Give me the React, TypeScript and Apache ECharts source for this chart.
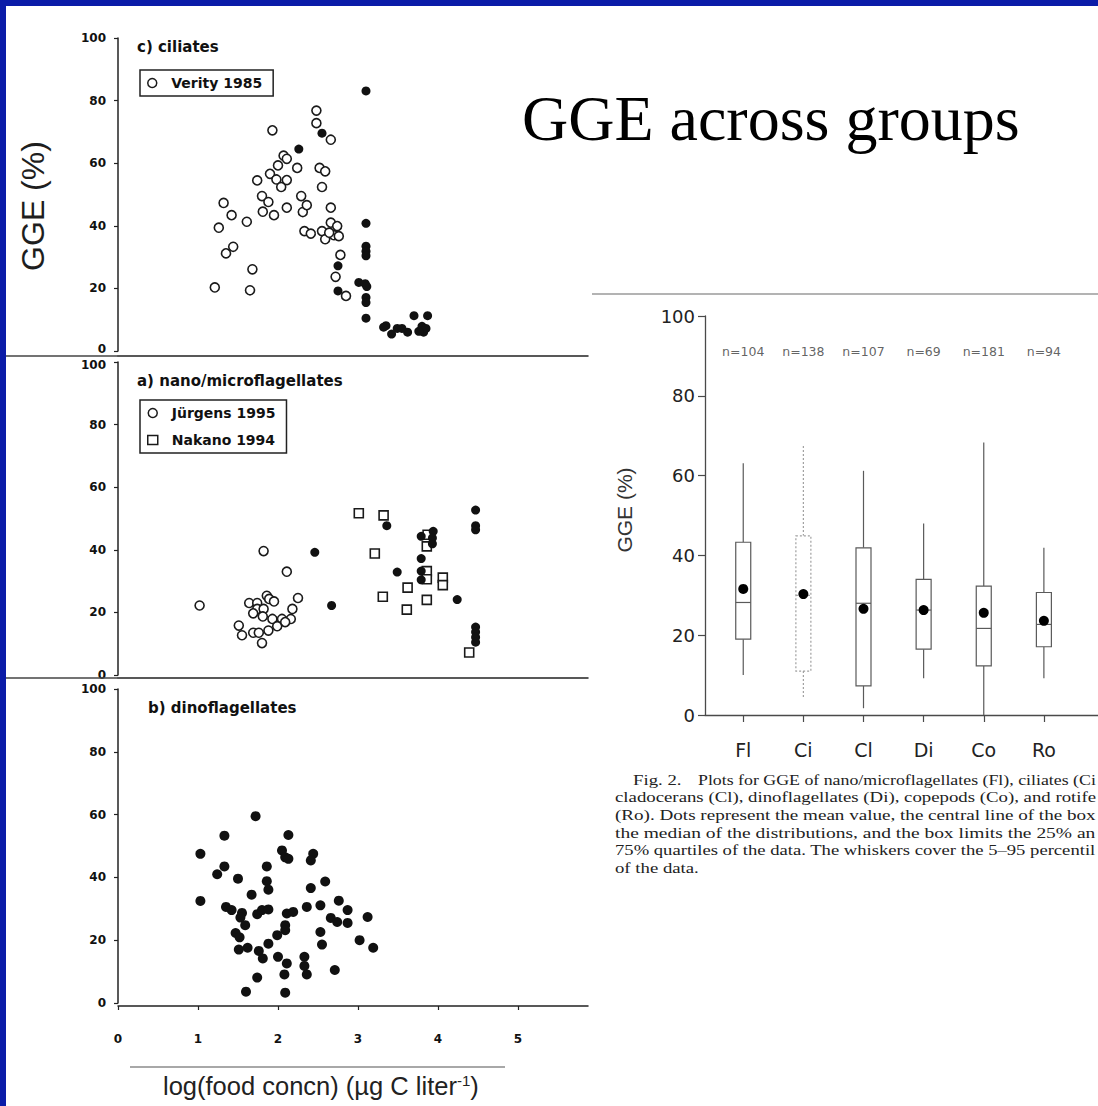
import { useEffect, useRef } from 'react';
import * as echarts from 'echarts';

// ---- c) ciliates: log(food concn) vs GGE (%) ----
const ciliatesVerity: [number, number][] = [
  [1.21, 20.3], [1.65, 19.4], [1.26, 39.4], [1.32, 47.3], [1.42, 43.4], [1.35, 31.2],
  [1.44, 33.3], [1.61, 41.3], [1.68, 26.1], [1.74, 54.5], [1.80, 49.5], [1.81, 44.5],
  [1.88, 47.6], [1.95, 43.4], [1.93, 70.5], [1.90, 56.6], [1.98, 54.8], [2.00, 59.3],
  [2.04, 52.4], [2.07, 62.4], [2.11, 61.4], [2.11, 54.6], [2.11, 45.8], [2.24, 58.5],
  [2.29, 49.5], [2.31, 44.4], [2.36, 46.6], [2.33, 38.3], [2.41, 37.5], [2.48, 76.8],
  [2.48, 72.8], [2.66, 67.5], [2.52, 58.5], [2.59, 57.4], [2.55, 52.4], [2.66, 45.8],
  [2.55, 38.3], [2.59, 35.7], [2.66, 41.0], [2.70, 37.0], [2.74, 39.9], [2.76, 36.7],
  [2.78, 30.7], [2.72, 23.7], [2.85, 17.6], [2.64, 37.8],
];
const ciliatesOther: [number, number][] = [
  [3.10, 83.1], [2.26, 64.5], [2.55, 69.6], [3.10, 40.8], [3.10, 33.5], [3.10, 31.9],
  [3.10, 30.4], [3.01, 21.9], [3.09, 21.5], [3.11, 20.6], [3.10, 17.1], [3.10, 15.5],
  [3.10, 10.5], [2.75, 27.2], [2.75, 19.2], [3.35, 8.1], [3.42, 5.4], [3.49, 7.2],
  [3.62, 6.0], [3.70, 11.3], [3.87, 11.3], [3.80, 7.9], [3.82, 6.0], [3.32, 7.6],
  [3.55, 7.2], [3.85, 7.2], [3.76, 6.3],
];

// ---- a) nano/microflagellates ----
const flagJurgens: [number, number][] = [
  [1.02, 22.2], [1.82, 39.6], [2.11, 33.0], [1.64, 23.0], [1.74, 23.0], [1.86, 25.3],
  [1.89, 24.3], [1.95, 23.5], [1.74, 21.1], [1.82, 21.1], [1.69, 19.7], [1.81, 18.7],
  [1.93, 17.9], [2.05, 17.9], [2.16, 17.9], [2.18, 21.1], [2.25, 24.6], [1.51, 15.8],
  [1.55, 12.7], [1.69, 13.5], [1.76, 13.5], [1.88, 14.2], [1.99, 15.6], [1.80, 10.2],
  [2.09, 16.9],
];
const flagNakano: [number, number][] = [
  [3.01, 51.7], [3.32, 51.0], [3.21, 38.8], [3.31, 25.0], [3.62, 27.9], [3.61, 20.9],
  [3.86, 24.0], [3.86, 41.1], [3.87, 44.8], [3.86, 33.2], [3.86, 30.6], [4.06, 31.1],
  [4.06, 28.7], [4.39, 7.2],
];
const flagOther: [number, number][] = [
  [2.46, 39.2], [2.67, 22.2], [3.36, 47.7], [3.49, 32.9], [3.79, 44.3], [3.79, 37.2],
  [3.79, 33.2], [3.79, 30.4], [3.94, 45.9], [3.93, 43.8], [3.93, 41.9], [4.24, 24.1],
  [4.47, 52.7], [4.47, 47.7], [4.47, 46.4], [4.47, 15.3], [4.47, 13.7], [4.47, 12.1],
  [4.47, 10.5],
];

// ---- b) dinoflagellates ----
const dinoflagellates: [number, number][] = [
  [1.72, 59.5], [1.33, 53.3], [2.13, 53.5], [1.03, 47.5], [2.05, 48.6], [2.09, 46.4],
  [2.13, 45.9], [2.44, 47.5], [2.41, 45.4], [1.33, 43.5], [1.24, 41.0], [1.86, 43.5],
  [1.50, 39.6], [1.86, 38.8], [1.88, 36.1], [1.67, 34.5], [2.41, 36.6], [2.59, 38.7],
  [1.03, 32.5], [1.35, 30.6], [1.42, 29.6], [1.55, 28.7], [1.53, 27.2], [1.59, 24.8],
  [1.74, 28.3], [1.80, 29.6], [1.88, 29.8], [2.11, 28.5], [2.19, 29.0], [2.36, 30.6],
  [2.53, 31.1], [2.76, 32.6], [2.87, 29.6], [2.66, 27.1], [2.74, 25.8], [2.87, 25.5],
  [3.12, 27.4], [1.47, 22.3], [1.52, 20.9], [2.09, 24.8], [2.09, 23.2], [1.99, 21.6],
  [1.88, 18.9], [2.53, 22.6], [2.55, 18.6], [3.02, 20.0], [3.19, 17.6], [1.51, 17.0],
  [1.62, 17.6], [1.76, 16.6], [1.81, 14.2], [2.00, 14.7], [2.11, 12.6], [2.33, 14.7],
  [2.33, 11.8], [2.36, 9.1], [2.71, 10.5], [1.74, 8.1], [2.08, 9.1], [1.60, 3.6],
  [2.09, 3.3],
];

const logTicks = [0, 1, 2, 3, 4, 5];

// ---- Fig. 2 box plot: GGE by group ----
const groups = ['Fl', 'Ci', 'Cl', 'Di', 'Co', 'Ro'];
const p5 = [10.0, 4.2, 1.7, 9.2, 0.0, 9.2];
const q1 = [19.0, 11.0, 7.3, 16.5, 12.3, 17.1];
const median = [28.2, 30.0, 28.0, 26.3, 21.7, 22.7];
const q3 = [43.3, 44.9, 41.9, 34.0, 32.3, 30.7];
const p95 = [63.1, 67.4, 61.2, 48.0, 68.3, 41.9];
const meanGGE = [31.6, 30.3, 26.6, 26.3, 25.6, 23.6];
const sampleSizes = [104, 138, 107, 69, 181, 94];
const nLabelLevel = 91;

// caption of the pasted figure, as far as the slide shows it
const captionLead = 'Fig. 2.';
const captionLines = [
  'Plots for GGE of nano/microflagellates (Fl), ciliates (Ci',
  'cladocerans (Cl), dinoflagellates (Di), copepods (Co), and rotife',
  '(Ro). Dots represent the mean value, the central line of the box',
  'the median of the distributions, and the box limits the 25% an',
  '75% quartiles of the data. The whiskers cover the 5\u201395 percentil',
  'of the data.',
];

const SCAN_FONT = 'DejaVu Sans';
const CAPTION_FONT = 'Liberation Serif';
const CAPTION_SIZE = 15;
const INK = '#111';
const BLUE = '#0b1ca8';

const openStyle = { color: '#fff', borderColor: '#1a1a1a', borderWidth: 1.6, opacity: 1 };
const filledStyle = { color: INK, opacity: 1 };

function measure(text: string, font: string): number {
  const ctx = document.createElement('canvas').getContext('2d');
  if (!ctx) return text.length * 7;
  ctx.font = font;
  return ctx.measureText(text).width;
}

function scatterY(gridIndex: number, formatter?: (v: number) => string, rich?: any) {
  return {
    gridIndex,
    type: 'value',
    min: 0,
    max: 100,
    interval: 20,
    axisLine: { show: true, lineStyle: { color: '#222', width: 1.5 } },
    axisTick: { show: true, inside: false, length: 4, lineStyle: { color: '#222', width: 1.2 } },
    axisLabel: {
      fontFamily: SCAN_FONT, fontWeight: 'bold', fontSize: 12, color: INK, margin: 12,
      ...(formatter ? { formatter, rich } : {}),
    },
    splitLine: { show: false },
  };
}

function scatterX(gridIndex: number, withLabels: boolean, offset: number) {
  return {
    gridIndex,
    type: 'value',
    min: 0,
    max: 5.875,
    offset,
    axisLine: { show: true, onZero: false, lineStyle: { color: '#222', width: 1.5 } },
    axisTick: withLabels
      ? { show: true, length: 4, customValues: logTicks, lineStyle: { color: '#222', width: 1.2 } }
      : { show: false },
    axisLabel: withLabels
      ? { show: true, customValues: logTicks, fontFamily: SCAN_FONT, fontWeight: 'bold', fontSize: 12, color: INK, margin: 27 }
      : { show: false },
    splitLine: { show: false },
  };
}

const labelRich = {
  up: { fontFamily: SCAN_FONT, fontWeight: 'bold', fontSize: 12, color: INK, padding: [0, 0, 5, 0] },
  down: { fontFamily: SCAN_FONT, fontWeight: 'bold', fontSize: 12, color: INK, padding: [5, 0, 0, 0] },
};

function buildOption() {
  const boxRows = groups.map((_, i) => [i + 1, p5[i], q1[i], median[i], q3[i], p95[i]]);

  // the printed caption is justified: stretch every full line to the right edge
  const captionFont = `${CAPTION_SIZE}px "${CAPTION_FONT}"`;
  const rightEdge = 1096;
  const lineX = (i: number) => (i === 0 ? 698 : 615);
  const scales = captionLines.map((line, i) => (rightEdge - lineX(i)) / measure(line, captionFont));
  const fullScales = scales.slice(0, scales.length - 1);
  const avgScale = fullScales.reduce((a, b) => a + b, 0) / fullScales.length;

  const captionStyle = (text: string) => ({
    text, fontFamily: CAPTION_FONT, fontSize: CAPTION_SIZE, fill: '#222', align: 'left', verticalAlign: 'middle',
  });
  const captionGraphics: any[] = [
    { type: 'text', x: 633, y: 780, scaleX: avgScale, z: 10, style: captionStyle(captionLead) },
    ...captionLines.map((line, i) => ({
      type: 'text',
      x: lineX(i),
      y: 780 + i * 17.6,
      scaleX: i === captionLines.length - 1 ? avgScale : scales[i],
      z: 10,
      style: captionStyle(line),
    })),
  ];

  return {
    animation: false,
    backgroundColor: '#ffffff',
    title: [
      {
        text: 'GGE across groups', left: 522, top: 86, padding: 0,
        textStyle: { fontFamily: 'Liberation Serif', fontSize: 64, fontWeight: 'normal', color: '#000' },
      },
      {
        text: 'c) ciliates', left: 137, top: 39, padding: 0,
        textStyle: { fontFamily: SCAN_FONT, fontSize: 15, fontWeight: 'bold', color: INK },
      },
      {
        text: 'a) nano/microflagellates', left: 137, top: 373, padding: 0,
        textStyle: { fontFamily: SCAN_FONT, fontSize: 15, fontWeight: 'bold', color: INK },
      },
      {
        text: 'b) dinoflagellates', left: 148, top: 700, padding: 0,
        textStyle: { fontFamily: SCAN_FONT, fontSize: 15, fontWeight: 'bold', color: INK },
      },
    ],
    legend: [
      {
        data: [{ name: 'Verity 1985', icon: 'circle' }],
        left: 140, top: 70, selectedMode: false,
        borderColor: '#222', borderWidth: 1.5, borderRadius: 0, padding: [6, 11, 6, 7],
        itemWidth: 10, itemHeight: 9,
        itemStyle: { color: '#fff', borderColor: '#1a1a1a', borderWidth: 1.5 },
        textStyle: { fontFamily: SCAN_FONT, fontWeight: 'bold', fontSize: 14, color: INK, padding: [0, 0, 0, 9] },
      },
      {
        data: [{ name: 'Jürgens 1995', icon: 'circle' }, { name: 'Nakano 1994', icon: 'rect' }],
        left: 140, top: 400, orient: 'vertical', itemGap: 13, selectedMode: false,
        borderColor: '#222', borderWidth: 1.5, borderRadius: 0, padding: [6, 11, 6, 7],
        itemWidth: 10, itemHeight: 9,
        itemStyle: { color: '#fff', borderColor: '#1a1a1a', borderWidth: 1.5 },
        textStyle: { fontFamily: SCAN_FONT, fontWeight: 'bold', fontSize: 14, color: INK, padding: [0, 0, 0, 9] },
      },
    ],
    grid: [
      { left: 118, top: 38, width: 470, height: 313 },
      { left: 118, top: 362, width: 470, height: 313 },
      { left: 118, top: 689, width: 470, height: 314 },
      { left: 705, top: 316, width: 428.8, height: 399 },
    ],
    xAxis: [
      scatterX(0, false, 5),
      scatterX(1, false, 3),
      scatterX(2, true, 3),
      {
        gridIndex: 3,
        type: 'value',
        min: 0.364,
        max: 6.9,
        axisLine: { show: true, onZero: false, lineStyle: { color: '#4a4a4a', width: 1.3 } },
        axisTick: { show: true, length: 7, customValues: groups.map((_, i) => i + 1), lineStyle: { color: '#4a4a4a', width: 1.2 } },
        axisLabel: {
          customValues: groups.map((_, i) => i + 1),
          formatter: (v: number) => groups[Math.round(v) - 1] ?? '',
          fontFamily: SCAN_FONT, fontSize: 19, color: '#222', margin: 25,
        },
        splitLine: { show: false },
      },
    ],
    yAxis: [
      scatterY(0, (v: number) => (v === 0 ? `{up|${v}}` : `${v}`), labelRich),
      scatterY(1, (v: number) => (v === 100 ? `{down|${v}}` : `${v}`), labelRich),
      scatterY(2),
      {
        gridIndex: 3,
        type: 'value',
        min: 0,
        max: 100,
        interval: 20,
        axisLine: { show: true, lineStyle: { color: '#4a4a4a', width: 1.3 } },
        axisTick: { show: true, length: 7, lineStyle: { color: '#4a4a4a', width: 1.2 } },
        axisLabel: { fontFamily: SCAN_FONT, fontSize: 18, color: '#222', margin: 10 },
        splitLine: { show: false },
      },
    ],
    series: [
      {
        name: 'Verity 1985', type: 'scatter', xAxisIndex: 0, yAxisIndex: 0,
        data: ciliatesVerity, symbol: 'circle', symbolSize: 9, itemStyle: openStyle,
      },
      {
        name: 'ciliates, other studies', type: 'scatter', xAxisIndex: 0, yAxisIndex: 0,
        data: ciliatesOther, symbol: 'circle', symbolSize: 9, itemStyle: filledStyle,
      },
      {
        name: 'Jürgens 1995', type: 'scatter', xAxisIndex: 1, yAxisIndex: 1,
        data: flagJurgens, symbol: 'circle', symbolSize: 9, itemStyle: openStyle,
      },
      {
        name: 'Nakano 1994', type: 'scatter', xAxisIndex: 1, yAxisIndex: 1,
        data: flagNakano, symbol: 'rect', symbolSize: 9, itemStyle: openStyle,
      },
      {
        name: 'flagellates, other studies', type: 'scatter', xAxisIndex: 1, yAxisIndex: 1,
        data: flagOther, symbol: 'circle', symbolSize: 9, itemStyle: filledStyle,
      },
      {
        name: 'dinoflagellates', type: 'scatter', xAxisIndex: 2, yAxisIndex: 2,
        data: dinoflagellates, symbol: 'circle', symbolSize: 10, itemStyle: filledStyle,
      },
      {
        name: 'GGE distribution', type: 'custom', xAxisIndex: 3, yAxisIndex: 3,
        data: boxRows, encode: { x: 0, y: [1, 2, 3, 4, 5] }, clip: false, silent: true, z: 2,
        renderItem: (params: any, api: any) => {
          const x = api.value(0);
          const lo = api.coord([x, api.value(1)]);
          const b1 = api.coord([x, api.value(2)]);
          const md = api.coord([x, api.value(3)]);
          const b3 = api.coord([x, api.value(4)]);
          const hi = api.coord([x, api.value(5)]);
          const half = 7.5;
          const faded = groups[params.dataIndex] === 'Ci';
          const stroke = faded ? '#a0a0a0' : '#5a5a5a';
          const style: any = { stroke, lineWidth: 1.2, fill: null, lineDash: faded ? [2, 2] : null };
          return {
            type: 'group',
            children: [
              { type: 'line', shape: { x1: hi[0], y1: hi[1], x2: b3[0], y2: b3[1] }, style },
              { type: 'line', shape: { x1: b1[0], y1: b1[1], x2: lo[0], y2: lo[1] }, style },
              {
                type: 'rect',
                shape: { x: b3[0] - half, y: b3[1], width: half * 2, height: b1[1] - b3[1] },
                style: { ...style, fill: '#fff' },
              },
              { type: 'line', shape: { x1: md[0] - half, y1: md[1], x2: md[0] + half, y2: md[1] }, style },
            ],
          };
        },
      },
      {
        name: 'mean', type: 'scatter', xAxisIndex: 3, yAxisIndex: 3, z: 3,
        data: groups.map((_, i) => [i + 1, meanGGE[i]]),
        symbol: 'circle', symbolSize: 10, itemStyle: { color: '#000', opacity: 1 },
      },
      {
        name: 'sample size', type: 'scatter', xAxisIndex: 3, yAxisIndex: 3, z: 3, silent: true,
        data: groups.map((_, i) => [i + 1, nLabelLevel]),
        symbol: 'circle', symbolSize: 1, itemStyle: { color: 'rgba(0,0,0,0)' },
        label: {
          show: true, position: 'inside',
          formatter: (p: any) => 'n=' + sampleSizes[p.dataIndex],
          fontFamily: SCAN_FONT, fontSize: 12.5, color: '#3a3a3a',
        },
      },
    ],
    graphic: [
      // slide frame
      { type: 'rect', z: 100, shape: { x: 0, y: 0, width: 1098, height: 6 }, style: { fill: BLUE } },
      { type: 'rect', z: 100, shape: { x: 0, y: 0, width: 6, height: 1106 }, style: { fill: BLUE } },
      // panel separators continuing the x-axis lines to the left edge
      { type: 'line', z: 5, shape: { x1: 6, y1: 356, x2: 118, y2: 356 }, style: { stroke: '#444', lineWidth: 1.5 } },
      { type: 'line', z: 5, shape: { x1: 6, y1: 678, x2: 118, y2: 678 }, style: { stroke: '#444', lineWidth: 1.5 } },
      // frame of the box plot figure
      { type: 'line', z: 5, shape: { x1: 592, y1: 294, x2: 1098, y2: 294 }, style: { stroke: '#9a9a9a', lineWidth: 1.5 } },
      // rule under the log axis
      { type: 'line', z: 5, shape: { x1: 130, y1: 1067, x2: 505, y2: 1067 }, style: { stroke: '#a8a8a8', lineWidth: 2 } },
      // shared y-axis title of the scatter panels
      {
        type: 'text', x: 33, y: 206, rotation: Math.PI / 2, z: 10,
        style: { text: 'GGE (%)', fontFamily: 'Liberation Sans', fontSize: 32, fill: '#1e1e1e', align: 'center', verticalAlign: 'middle' },
      },
      // x-axis title of the scatter panels
      {
        type: 'text', x: 163, y: 1086, z: 10,
        style: {
          text: '{a|log(food concn) (\u00b5g C liter}{s|-1}{a|)}',
          align: 'left', verticalAlign: 'middle',
          rich: {
            a: { fontFamily: 'Liberation Sans', fontSize: 25.5, fill: '#222' },
            s: { fontFamily: 'Liberation Sans', fontSize: 15, fill: '#222', verticalAlign: 'top' },
          },
        },
      },
      // y-axis title of the box plot
      {
        type: 'text', x: 624, y: 510, rotation: Math.PI / 2, z: 10,
        style: { text: 'GGE (%)', fontFamily: 'Liberation Sans', fontSize: 21, fill: '#333', align: 'center', verticalAlign: 'middle' },
      },
      ...captionGraphics,
    ],
  };
}

export default function App() {
  const ref = useRef<HTMLDivElement>(null);

  useEffect(() => {
    document.body.style.margin = '0';
    const chart = echarts.init(ref.current as HTMLDivElement, null, { renderer: 'svg' });
    chart.setOption(buildOption() as any);
    return () => chart.dispose();
  }, []);

  return <div ref={ref} style={{ width: 1098, height: 1106, background: '#fff' }} />;
}
